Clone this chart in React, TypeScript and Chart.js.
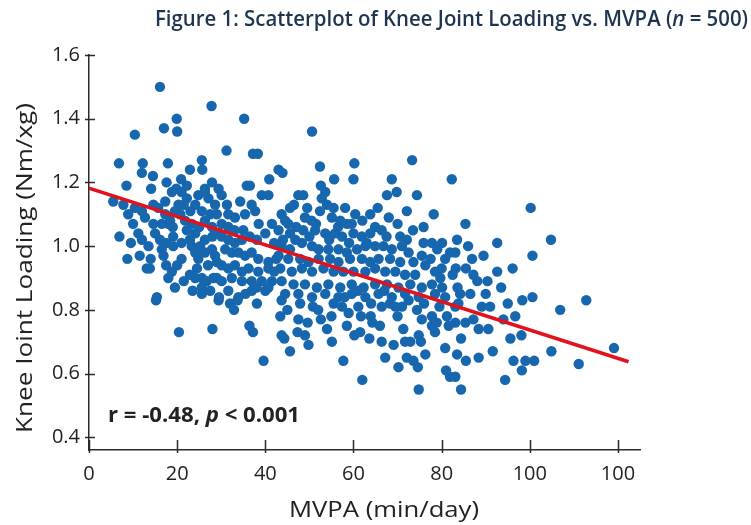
import React, { useEffect, useRef } from 'react';
import { Chart, registerables } from 'chart.js';

Chart.register(...registerables);

// MVPA (min/day) values, paired with loading below
const mvpa: number[] = [
  16.1, 27.8, 19.9, 17.0, 20.0, 10.4, 35.2, 31.2, 37.2, 38.3, 6.8, 12.2, 17.9, 25.6, 12.0, 22.9, 25.7, 14.5, 20.9, 40.9,
  8.5, 17.6, 27.9, 35.8, 36.5, 14.1, 22.2, 19.8, 26.3, 29.4,
  50.6, 43.0, 43.9, 52.4, 60.2, 73.3, 55.6, 60.0, 68.7, 82.3, 52.6,
  100.2, 85.4, 92.6, 104.8, 100.6, 86.9, 83.1, 83.2, 85.5, 87.2, 88.1, 90.4, 92.6, 96.1, 83.6, 84.2, 86.5, 98.3, 100.6, 112.8,
  83.8, 89.1, 91.0, 106.9, 83.1, 85.4, 87.2, 88.4, 90.6, 94.0, 96.7, 98.1, 84.4, 95.6, 91.6, 104.9, 119.1, 83.5, 85.5, 88.4,
  96.3, 99.0, 101.0, 98.2, 111.1, 83.1, 94.4, 84.4,
  15.2, 29.4, 33.7, 38.1, 32.9, 20.4, 28.0, 36.4, 37.2, 39.6,
  43.7, 47.9, 50.8, 43.4, 47.5, 49.6, 52.6, 54.0, 43.7, 44.3, 47.3, 49.0, 49.8, 45.6, 55.1, 57.4, 58.9, 61.1, 61.7, 63.9,
  64.3, 60.2, 61.5, 63.6, 57.7, 62.0, 66.4, 68.3, 69.5, 71.0, 66.4, 67.2, 69.1, 71.3, 71.7, 72.9, 70.2, 72.1, 73.6, 74.6,
  74.4, 75.5, 77.8, 78.9, 77.8, 74.8, 75.3, 76.3, 78.5, 80.8, 81.2, 81.6, 74.8, 81.0, 81.9, 83.1,
  5.5, 7.8, 8.9, 6.9, 8.7, 13.1, 13.8, 11.2, 12.0, 10.4, 12.0, 12.7, 14.6, 15.7, 17.3, 14.6, 16.5, 18.0, 15.0, 16.1,
  17.6, 19.1, 16.5, 16.9, 19.1, 21.0, 18.8, 18.0, 19.5, 15.4, 18.8, 21.0, 22.2, 20.3, 19.5, 20.7, 17.3, 18.4, 21.8, 23.3,
  22.2, 24.1, 22.9, 21.0, 23.3, 25.2, 26.3, 24.1, 24.8, 26.3, 27.9, 28.6, 22.9, 24.1, 25.6, 26.7, 25.6, 28.2, 29.0, 24.8,
  26.3, 27.1, 28.6, 30.1, 24.1, 25.6, 27.5, 29.0, 26.3, 27.9, 30.1, 31.6, 31.3, 34.3, 36.9, 39.2, 40.7, 31.6, 33.1, 35.4,
  37.7, 30.1, 31.6, 33.1, 34.7, 36.5, 38.1, 40.0, 30.9, 32.4, 33.9, 35.4, 36.9, 38.4, 40.7, 30.1, 31.6, 33.1, 34.7, 36.2,
  38.4, 40.7, 30.1, 32.4, 34.7, 36.9, 39.2, 41.5, 31.6, 33.9, 36.9, 40.0, 40.7, 25.6,
  47.5, 48.6, 53.6, 52.8, 54.0, 52.4, 67.6, 69.8, 74.4, 58.1, 60.4, 63.8, 72.1, 43.7, 45.6, 49.0, 55.1, 57.0, 58.5, 59.6,
  78.2, 75.9, 45.2, 43.0, 45.6, 48.6, 51.3, 53.6, 55.8, 57.4, 60.0, 61.9, 63.8, 64.9, 66.4, 70.6, 72.1, 75.9, 77.8, 80.1,
  81.9, 80.8, 75.5, 76.3,
  43.7, 45.6, 48.3, 50.6, 52.1, 54.3, 56.6, 58.5, 60.8, 62.7, 64.9, 66.8, 68.7, 71.0, 72.5,
  43.0, 45.2, 47.9, 49.8, 52.1, 54.7, 56.6, 59.2, 61.9, 63.8, 65.7, 68.3, 70.6, 73.6,
  43.4, 46.0, 48.3, 50.6, 53.2, 55.5, 57.7, 60.0, 62.7, 64.9, 67.2, 69.5, 71.7, 74.0, 78.5, 79.7,
  43.7, 46.4, 49.0, 51.7, 54.3, 57.0, 59.6, 62.3, 64.9, 67.6, 70.2, 72.9, 75.5, 77.8, 80.1,
  44.5, 47.5, 50.6, 53.6, 56.6, 59.6, 62.7, 65.7, 68.7, 71.7, 74.8, 78.5, 80.8,
  46.5, 49.5, 50.5, 47.0, 44.5, 51.5, 55.5, 56.5, 62.0, 65.5, 68.0, 70.0, 73.5, 67.5, 63.0, 59.0, 54.5, 50.0, 46.8, 44.0,
  45.0, 52.0, 55.5, 58.0, 61.0, 64.0, 67.0, 70.0, 72.5, 76.0, 79.5, 66.0, 58.5, 55.0,
  10.0, 13.5, 9.5, 11.5, 14.0, 17.5, 20.0, 21.5, 23.5, 27.5, 29.5, 32.0, 35.5, 38.0, 42.0, 42.5, 42.0, 41.5, 38.5, 35.0,
  33.0, 29.5, 28.0, 25.0, 23.0, 21.5, 19.0, 27.0, 24.5, 29.0,
  82.5, 80.0, 77.5, 79.0, 83.5, 86.0, 89.5, 93.5, 95.0, 90.0,
];

// Knee joint loading values, same order as mvpa
const loading: number[] = [
  1.50, 1.44, 1.40, 1.37, 1.36, 1.35, 1.40, 1.30, 1.29, 1.29, 1.26, 1.26, 1.26, 1.27, 1.23, 1.24, 1.24, 1.22, 1.21, 1.21,
  1.19, 1.20, 1.20, 1.19, 1.19, 1.18, 1.19, 1.18, 1.18, 1.18,
  1.36, 1.24, 1.23, 1.25, 1.26, 1.27, 1.21, 1.21, 1.21, 1.21, 1.19,
  1.12, 1.07, 1.01, 1.02, 0.97, 0.96, 0.98, 0.93, 0.93, 0.91, 0.89, 0.89, 0.92, 0.93, 0.87, 0.85, 0.85, 0.83, 0.84, 0.83,
  0.82, 0.81, 0.81, 0.80, 0.76, 0.76, 0.77, 0.74, 0.74, 0.77, 0.78, 0.72, 0.71, 0.71, 0.67, 0.67, 0.68, 0.66, 0.64, 0.65,
  0.64, 0.64, 0.64, 0.61, 0.63, 0.59, 0.58, 0.55,
  0.83, 0.83, 0.83, 0.82, 0.80, 0.73, 0.74, 0.75, 0.73, 0.64,
  0.83, 0.82, 0.81, 0.78, 0.77, 0.76, 0.77, 0.74, 0.72, 0.71, 0.73, 0.72, 0.69, 0.67, 0.70, 0.81, 0.79, 0.81, 0.78, 0.78,
  0.76, 0.72, 0.73, 0.71, 0.64, 0.58, 0.81, 0.82, 0.81, 0.81, 0.70, 0.65, 0.69, 0.74, 0.70, 0.70, 0.62, 0.65, 0.64, 0.62,
  0.80, 0.77, 0.78, 0.76, 0.75, 0.72, 0.70, 0.66, 0.73, 0.68, 0.78, 0.75, 0.55, 0.61, 0.59, 0.81,
  1.14, 1.13, 1.10, 1.03, 0.96, 0.93, 0.93, 1.04, 1.02, 1.12, 1.11, 1.09, 1.13, 1.12, 1.14, 1.07, 1.07, 1.07, 1.04, 1.02,
  1.01, 1.03, 0.99, 0.97, 1.00, 0.96, 0.92, 0.90, 0.87, 0.84, 1.17, 1.17, 1.15, 1.13, 1.11, 1.10, 1.10, 1.08, 1.08, 1.07,
  1.05, 1.04, 1.02, 1.01, 1.00, 1.00, 1.02, 0.98, 0.96, 0.98, 0.99, 0.97, 0.91, 0.90, 0.90, 0.89, 0.87, 0.90, 0.90, 1.16,
  1.17, 1.15, 1.13, 1.16, 1.13, 1.11, 1.10, 1.10, 1.08, 1.06, 1.07, 1.06, 1.13, 1.14, 1.13, 1.16, 1.16, 1.10, 1.09, 1.10,
  1.11, 1.03, 1.02, 1.01, 1.02, 1.03, 1.02, 1.04, 0.99, 0.98, 0.98, 0.97, 0.98, 0.96, 0.95, 0.94, 0.93, 0.94, 0.92, 0.93,
  0.92, 0.93, 0.89, 0.90, 0.89, 0.89, 0.89, 0.89, 0.86, 0.84, 0.86, 0.86, 0.87, 0.85,
  1.16, 1.16, 1.17, 1.15, 1.13, 1.11, 1.16, 1.17, 1.16, 1.12, 1.10, 1.10, 1.11, 1.10, 1.12, 1.09, 1.09, 1.08, 1.07, 1.07,
  1.10, 1.06, 1.07, 1.05, 1.04, 1.05, 1.05, 1.04, 1.04, 1.03, 1.04, 1.03, 1.04, 1.06, 1.05, 1.03, 1.02, 1.01, 1.01, 1.01,
  0.98, 0.96, 0.97, 0.94,
  1.00, 0.99, 1.01, 1.00, 0.99, 0.99, 0.99, 0.98, 0.99, 1.00, 1.00, 1.00, 0.99, 1.00, 0.98,
  0.97, 0.96, 0.96, 0.95, 0.96, 0.96, 0.95, 0.96, 0.96, 0.95, 0.96, 0.96, 0.95, 0.95,
  0.93, 0.92, 0.93, 0.92, 0.93, 0.92, 0.92, 0.92, 0.92, 0.93, 0.92, 0.92, 0.91, 0.91, 0.92, 0.90,
  0.89, 0.88, 0.88, 0.87, 0.88, 0.87, 0.88, 0.87, 0.88, 0.88, 0.87, 0.88, 0.87, 0.88, 0.87,
  0.85, 0.85, 0.84, 0.85, 0.84, 0.85, 0.84, 0.85, 0.84, 0.85, 0.84, 0.85, 0.84,
  1.13, 1.12, 1.08, 1.06, 1.08, 1.07, 1.12, 1.06, 1.08, 1.12, 1.09, 1.07, 1.05, 1.03, 1.01, 1.01, 1.02, 1.03, 1.02, 1.02,
  0.80, 0.80, 0.82, 0.84, 0.86, 0.82, 0.86, 0.78, 0.83, 0.82, 0.81, 0.75, 0.75, 0.78,
  1.07, 1.00, 1.01, 0.97, 0.96, 0.94, 0.94, 0.89, 0.86, 0.86, 0.84, 0.82, 0.85, 0.87, 0.92, 0.96, 1.01, 1.07, 1.07, 1.05,
  1.05, 1.04, 1.03, 1.06, 1.11, 1.13, 1.06, 0.94, 0.93, 0.95,
  0.91, 0.93, 0.96, 0.99, 1.02, 1.00, 0.97, 0.87, 0.82, 0.85,
];

// Regression line end points
const fitX: number[] = [0, 122.4];
const fitY: number[] = [1.182, 0.637];

const xTickValues: number[] = [0, 20, 40, 60, 80, 100, 120];
const xTickLabels: string[] = ['0', '20', '40', '60', '80', '100', '100'];
const yTickValues: number[] = [0.4, 0.6, 0.8, 1.0, 1.2, 1.4, 1.6];
const yTickLabels: string[] = ['0.4', '0.6', '0.8', '1.0', '1.2', '1.4', '1.6'];

type Part = { text: string; italic: boolean };
const titleParts: Part[] = [
  { text: 'Figure 1: Scatterplot of Knee Joint Loading vs. MVPA (', italic: false },
  { text: 'n', italic: true },
  { text: ' = 500)', italic: false },
];
const statParts: Part[] = [
  { text: 'r = -0.48, ', italic: false },
  { text: 'p', italic: true },
  { text: ' < 0.001', italic: false },
];
const xTitleParts: Part[] = [{ text: 'MVPA (min/day)', italic: false }];
const yTitleParts: Part[] = [{ text: 'Knee Ioint Loading (Nm/xg)', italic: false }];

const POINT_COLOR = '#1767ae';
const LINE_COLOR = '#e2121c';
const AXIS_COLOR = '#2b2b2b';
const TEXT_COLOR = '#222222';
const TITLE_COLOR = '#1e3450';
const FONT = '"Open Sans", "Noto Sans", sans-serif';

// draws mixed-style text, stretched along its direction to a given length
function drawParts(
  ctx: CanvasRenderingContext2D,
  parts: Part[],
  x: number,
  y: number,
  size: number,
  weight: string,
  color: string,
  width: number,
  rotate: boolean
) {
  const fonts = parts.map((p) => `${p.italic ? 'italic ' : ''}${weight} ${size}px ${FONT}`);
  const widths = parts.map((p, i) => {
    ctx.font = fonts[i];
    return ctx.measureText(p.text).width;
  });
  const total = widths.reduce((a, b) => a + b, 0);
  const sx = width > 0 ? width / total : 1;
  ctx.save();
  ctx.translate(x, y);
  if (rotate) ctx.rotate(-Math.PI / 2);
  ctx.scale(sx, 1);
  ctx.fillStyle = color;
  ctx.textAlign = 'left';
  ctx.textBaseline = 'alphabetic';
  let cx = rotate ? -total / 2 : 0;
  parts.forEach((p, i) => {
    ctx.font = fonts[i];
    ctx.fillText(p.text, cx, 0);
    cx += widths[i];
  });
  ctx.restore();
}

const decorPlugin = {
  id: 'decor',
  afterDraw(chart: any) {
    const ctx: CanvasRenderingContext2D = chart.ctx;
    const xs = chart.scales.x;
    const ys = chart.scales.y;
    const { left, bottom } = chart.chartArea;
    ctx.save();
    ctx.strokeStyle = AXIS_COLOR;
    ctx.lineWidth = 1.5;
    ctx.beginPath();
    xTickValues.forEach((v) => {
      const px = Math.round(xs.getPixelForValue(v)) + 0.5;
      ctx.moveTo(px, bottom + 3);
      ctx.lineTo(px, bottom - 10);
    });
    yTickValues.forEach((v) => {
      const py = Math.round(ys.getPixelForValue(v)) + 0.5;
      ctx.moveTo(left - 4, py);
      ctx.lineTo(left + 6, py);
    });
    ctx.stroke();
    drawParts(ctx, titleParts, 155, 26, 22, '600', TITLE_COLOR, 593, false);
    drawParts(ctx, statParts, left + 19, bottom - 28, 21, 'bold', TEXT_COLOR, 192, false);
    drawParts(ctx, xTitleParts, 289, 517, 21, 'normal', TEXT_COLOR, 190, false);
    drawParts(ctx, yTitleParts, 32, 268, 21, 'normal', TEXT_COLOR, 330, true);
    ctx.restore();
  },
};

export default function App() {
  const canvasRef = useRef<HTMLCanvasElement | null>(null);

  useEffect(() => {
    const canvas = canvasRef.current;
    if (!canvas) return;
    const points = mvpa.map((x, i) => ({ x, y: loading[i] }));
    const fit = fitX.map((x, i) => ({ x, y: fitY[i] }));
    const chart = new Chart(canvas, {
      type: 'scatter',
      data: {
        datasets: [
          {
            type: 'line',
            data: fit,
            borderColor: LINE_COLOR,
            borderWidth: 3.5,
            pointRadius: 0,
            fill: false,
            order: 0,
          } as any,
          {
            type: 'scatter',
            data: points,
            backgroundColor: POINT_COLOR,
            borderWidth: 0,
            pointRadius: 5.2,
            order: 1,
          },
        ],
      },
      options: {
        animation: false,
        responsive: false,
        events: [],
        layout: { padding: { top: 55, right: 111, bottom: 0, left: 0 } },
        plugins: { legend: { display: false }, tooltip: { enabled: false }, title: { display: false } },
        scales: {
          x: {
            type: 'linear',
            min: 0,
            max: 125,
            afterFit: (s: any) => {
              s.height = 75;
            },
            afterBuildTicks: (s: any) => {
              s.ticks = xTickValues.map((v) => ({ value: v }));
            },
            grid: { display: true, drawOnChartArea: false, drawTicks: false },
            border: { display: true, color: AXIS_COLOR, width: 1.5 },
            ticks: {
              padding: 12,
              color: TEXT_COLOR,
              font: { family: FONT, size: 20 },
              maxRotation: 0,
              callback: (v: any) => xTickLabels[xTickValues.indexOf(Number(v))] ?? '',
            },
          },
          y: {
            type: 'linear',
            min: 0.36,
            max: 1.6,
            afterFit: (s: any) => {
              s.width = 89;
            },
            afterBuildTicks: (s: any) => {
              s.ticks = yTickValues.map((v) => ({ value: v }));
            },
            grid: { display: true, drawOnChartArea: false, drawTicks: false },
            border: { display: true, color: AXIS_COLOR, width: 1.5 },
            ticks: {
              padding: 9,
              color: TEXT_COLOR,
              font: { family: FONT, size: 20 },
              callback: (v: any) => yTickLabels[yTickValues.indexOf(Number(v))] ?? '',
            },
          },
        },
      },
      plugins: [decorPlugin],
    });
    return () => chart.destroy();
  }, []);

  return (
    <div style={{ position: 'absolute', left: 0, top: 0, width: 751, height: 525, background: '#fff' }}>
      <canvas ref={canvasRef} width={751} height={525} style={{ display: 'block' }} />
    </div>
  );
}
